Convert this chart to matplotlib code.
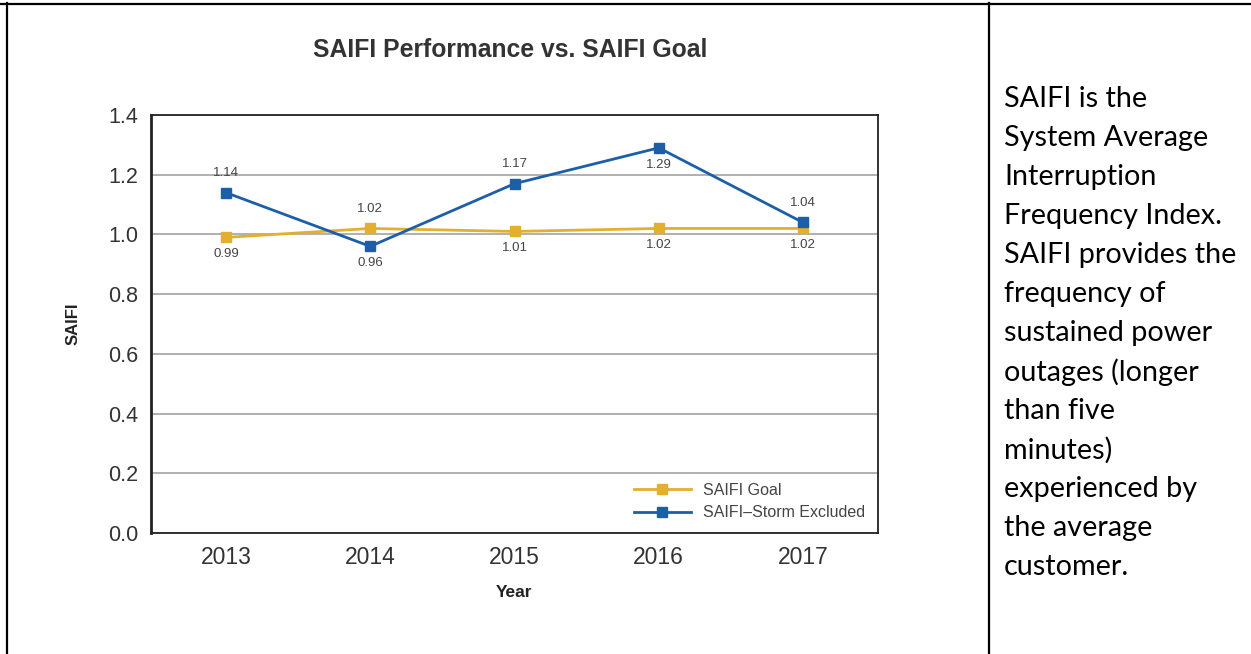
import matplotlib
matplotlib.use("Agg")
import matplotlib.pyplot as plt
from matplotlib.lines import Line2D

# ---- data ----
years = ["2013", "2014", "2015", "2016", "2017"]
saifi_goal = [0.99, 1.02, 1.01, 1.02, 1.02]
saifi_storm_excluded = [1.14, 0.96, 1.17, 1.29, 1.04]
goal_label = "SAIFI Goal"
storm_label = "SAIFI\u2013Storm Excluded"
title = "SAIFI Performance vs. SAIFI Goal"
y_ticks = [0.0, 0.2, 0.4, 0.6, 0.8, 1.0, 1.2, 1.4]
side_lines = ["SAIFI is the", "System Average", "Interruption", "Frequency Index.",
              "SAIFI provides the", "frequency of", "sustained power",
              "outages (longer", "than five", "minutes)", "experienced by",
              "the average", "customer."]

# label placement (style)
goal_pos = ["below", "above", "below", "below", "below"]
storm_pos = ["above", "below", "above", "below", "above"]

plt.rcParams["font.family"] = ["Liberation Sans", "DejaVu Sans"]

GOLD = "#E4AE2E"
BLUE = "#1D5EA8"
TXT = "#333333"

W, H = 1251, 654
fig = plt.figure(figsize=(W / 100, H / 100), dpi=100)
fig.patch.set_facecolor("white")

ax = fig.add_axes([151 / W, 1 - 533 / H, (878 - 151) / W, (533 - 115) / H])
x = list(range(len(years)))
ax.plot(x, saifi_goal, color=GOLD, lw=2.0, marker="s", ms=6.5, zorder=3)
ax.plot(x, saifi_storm_excluded, color=BLUE, lw=2.0, marker="s", ms=6.5, zorder=4)

ax.set_xlim(-0.52, 4.52)
ax.set_ylim(0, 1.4)
ax.set_yticks(y_ticks)
ax.set_yticklabels([f"{v:.1f}" for v in y_ticks])
ax.set_xticks(x)
ax.set_xticklabels(years)
ax.tick_params(axis="y", length=0, labelsize=15.5, labelcolor=TXT, pad=9)
ax.tick_params(axis="x", length=0, labelsize=16.5, labelcolor=TXT, pad=9)
ax.grid(axis="y", color="#AAAAAA", lw=1.3)
ax.set_axisbelow(True)
for s in ax.spines.values():
    s.set_color("#222222")
    s.set_linewidth(1.3)
ax.spines["left"].set_linewidth(2.0)

def lab(vals, pos):
    for xi, v, p in zip(x, vals, pos):
        off = 14 if p == "above" else -12
        ax.annotate(f"{v:.2f}", (xi, v), xytext=(0, off), textcoords="offset points",
                    ha="center", va="center", fontsize=9.5, color="#444444")

lab(saifi_goal, goal_pos)
lab(saifi_storm_excluded, storm_pos)

handles = [Line2D([], [], color=GOLD, lw=2.0, marker="s", ms=6.5),
           Line2D([], [], color=BLUE, lw=2.0, marker="s", ms=6.5)]
leg = ax.legend(handles, [goal_label, storm_label], loc="lower right",
                bbox_to_anchor=(1.0, 0.0), frameon=False, fontsize=11.5,
                handlelength=3.6, labelspacing=0.45, borderaxespad=0.4,
                handletextpad=0.75)
for t in leg.get_texts():
    t.set_color("#444444")

ax.set_ylabel("SAIFI", fontsize=12, fontweight="bold", color="#222222", labelpad=20)
ax.set_xlabel("Year", fontsize=12.5, fontweight="bold", color="#222222", labelpad=12)
fig.text(510 / W, 1 - 50 / H, title, ha="center", va="center", fontsize=17.8,
         fontweight="bold", color="#333333")

# table borders
fig.add_artist(Line2D([0, 1], [1 - 3.5 / H, 1 - 3.5 / H], color="black", lw=1.6))
fig.add_artist(Line2D([7 / W, 7 / W], [0, 1 - 3 / H], color="black", lw=1.6))
fig.add_artist(Line2D([989 / W, 989 / W], [0, 1 - 3 / H], color="black", lw=1.6))

# side text
y0 = 99
step = 39
for i, line in enumerate(side_lines):
    fig.text(1004 / W, 1 - (y0 + i * step) / H, line, ha="left", va="center",
             fontsize=20.7, family="Lato", color="black")

fig.savefig("out.png", dpi=100, facecolor="white")
